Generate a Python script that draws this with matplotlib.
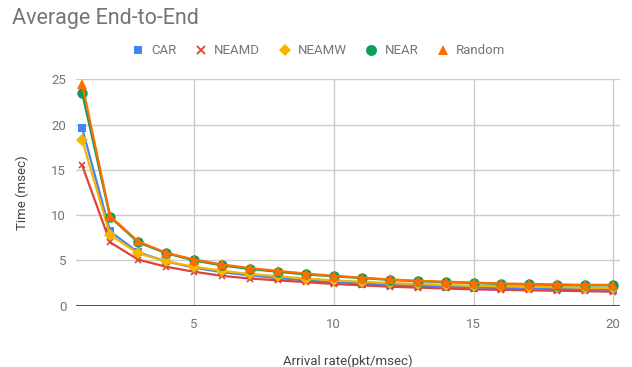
import matplotlib
matplotlib.use("Agg")
import matplotlib.pyplot as plt
from matplotlib.lines import Line2D

plt.rcParams['font.family'] = ['Roboto', 'DejaVu Sans']

# -------------------- Data --------------------
arrival_rate = list(range(1, 21))

car    = [19.6, 8.2, 5.9, 4.9, 4.2, 3.7, 3.35, 3.05, 2.8, 2.6, 2.45, 2.3, 2.2, 2.1, 2.0, 1.95, 1.9, 1.85, 1.8, 1.75]
neamd  = [15.5, 7.0, 5.1, 4.3, 3.75, 3.3, 3.0, 2.8, 2.6, 2.4, 2.25, 2.1, 2.0, 1.9, 1.8, 1.75, 1.7, 1.65, 1.6, 1.55]
neamw  = [18.3, 7.8, 5.8, 4.9, 4.3, 3.85, 3.5, 3.25, 3.0, 2.8, 2.65, 2.5, 2.4, 2.3, 2.2, 2.15, 2.1, 2.05, 2.0, 1.95]
near   = [23.5, 9.8, 7.0, 5.8, 5.0, 4.45, 4.05, 3.75, 3.45, 3.25, 3.05, 2.85, 2.7, 2.6, 2.5, 2.4, 2.35, 2.3, 2.25, 2.25]
random = [24.5, 9.9, 7.1, 5.85, 5.1, 4.55, 4.15, 3.85, 3.55, 3.3, 3.1, 2.9, 2.75, 2.65, 2.55, 2.45, 2.4, 2.35, 2.3, 2.3]

series_names = ["CAR", "NEAMD", "NEAMW", "NEAR", "Random"]
series_vals = [car, neamd, neamw, near, random]
colors = ["#4285F4", "#DB4437", "#F4B400", "#0F9D58", "#FF6D00"]
markers = ["s", "x", "D", "o", "^"]
msizes = [5.5, 5, 6, 7.5, 7]

x_ticks = [5, 10, 15, 20]
y_ticks = [0, 5, 10, 15, 20, 25]

# -------------------- Plot --------------------
fig = plt.figure(figsize=(6.32, 3.67), dpi=100)
ax = fig.add_axes([76 / 632, 1 - 305.7 / 367, (620 - 76) / 632, (305.7 - 79.3) / 367])

for name, vals, c, m, ms in zip(series_names, series_vals, colors, markers, msizes):
    ax.plot(arrival_rate, vals, color=c, lw=1.6, marker=m, ms=ms,
            mew=1.2 if m == "x" else 0, mec=c, label=name, zorder=3)

ax.set_xlim(0.78, 20.24)
ax.set_ylim(0, 25)
ax.set_xticks(x_ticks)
ax.set_yticks(y_ticks)
ax.grid(True, color="#cccccc", lw=1)
ax.set_axisbelow(True)
for s in ax.spines.values():
    s.set_visible(False)
ax.axhline(0, color="#333333", lw=1.2, zorder=2)
ax.tick_params(length=0, labelsize=9.5, labelcolor="#757575")
ax.tick_params(axis="x", pad=9)
ax.tick_params(axis="y", pad=7)

ax.set_ylabel("Time (msec)", fontsize=9.5, color="#444444", labelpad=16)
ax.set_xlabel("Arrival rate(pkt/msec)", fontsize=9.5, color="#444444", labelpad=17)

fig.text(12 / 632, 1 - 24 / 367, "Average End-to-End", fontsize=15.5, color="#757575",
         ha="left", va="baseline")

handles = [Line2D([], [], ls="none", marker=m, color=c, ms=ms * 1.05,
                  mew=1.3 if m == "x" else 0, mec=c)
           for c, m, ms in zip(colors, markers, msizes)]
fig.legend(handles, series_names, ncol=5, loc="center",
           bbox_to_anchor=(319 / 632, 1 - 51 / 367), frameon=False,
           fontsize=9.5, labelcolor="#757575", handlelength=0.8,
           handletextpad=0.6, columnspacing=1.45)

fig.savefig("out.png", dpi=100)
